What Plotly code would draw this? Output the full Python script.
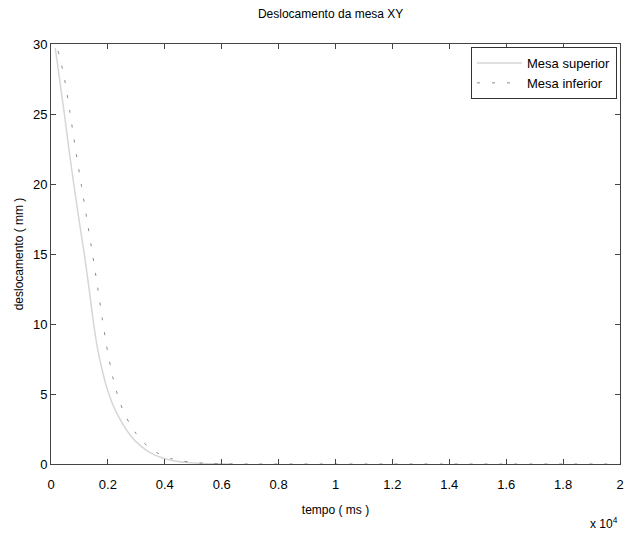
import plotly.graph_objects as go

# Mesa superior (solid)
sup_t = [150, 300, 470, 630, 800, 980, 1170, 1340, 1500, 1640, 1800, 1970, 2160, 2370,
         2600, 2850, 3150, 3500, 3900, 4350, 4800, 5300, 5900, 6400]
sup_y = [29.7, 27.5, 25.0, 22.5, 20.0, 17.5, 15.0, 12.5, 10.0, 8.2, 6.7, 5.4, 4.3, 3.4,
         2.6, 1.9, 1.3, 0.8, 0.45, 0.22, 0.1, 0.04, 0.01, 0.0]

# Mesa inferior (dotted)
inf_t = [250, 450, 660, 860, 1060, 1260, 1460, 1640, 1800, 1950, 2090, 2230, 2390, 2560,
         2760, 2980, 3220, 3500, 3820, 4200, 4650, 5100, 5700, 6300, 7000, 10000, 15000, 20000]
inf_y = [29.5, 27.8, 25.2, 22.5, 20.0, 17.5, 15.0, 12.6, 10.4, 8.5, 7.0, 5.7, 4.6, 3.7,
         2.9, 2.2, 1.6, 1.1, 0.7, 0.4, 0.2, 0.09, 0.03, 0.01, 0.0, 0.0, 0.0, 0.0]

x_tickvals = [0, 2000, 4000, 6000, 8000, 10000, 12000, 14000, 16000, 18000, 20000]
x_ticktext = ["0", "0.2", "0.4", "0.6", "0.8", "1", "1.2", "1.4", "1.6", "1.8", "2"]
y_tickvals = [0, 5, 10, 15, 20, 25, 30]

W, H = 643, 547
L, R, T, B = 43, 612, 36, 456
PW, PH = R - L, B - T

fig = go.Figure()
fig.add_trace(go.Scatter(x=sup_t, y=sup_y, mode="lines", name="Mesa superior",
                         line=dict(color="#d6d6d6", width=1.5, shape="spline", smoothing=0.6)))
fig.add_trace(go.Scatter(x=inf_t, y=inf_y, mode="lines", name="Mesa inferior",
                         line=dict(color="#8a8a8a", width=1, dash="3px,12px",
                                   shape="spline", smoothing=0.6)))

font = "Liberation Sans, Arial, sans-serif"
fig.update_layout(
    width=W, height=H,
    margin=dict(l=L, r=W - R, t=T, b=H - B),
    paper_bgcolor="white", plot_bgcolor="white",
    font=dict(family=font, size=12, color="black"),
    title=dict(text="Deslocamento da mesa XY", x=316 / W, xref="paper", xanchor="center",
               y=1 - 6 / H, yanchor="middle", font=dict(size=12)),
    showlegend=True,
    legend=dict(x=1 - 3 / PW, xanchor="right", y=1 - 3 / PH, yanchor="top",
                bordercolor="#333", borderwidth=1, bgcolor="white",
                font=dict(size=13), tracegroupgap=0, itemwidth=45),
    xaxis=dict(range=[0, 20000], tickvals=x_tickvals, ticktext=x_ticktext,
               showline=True, linecolor="#444", linewidth=1, mirror="ticks",
               ticks="inside", ticklen=5, tickcolor="#444", showgrid=False, zeroline=False,
               tickfont=dict(size=13), ticklabelstandoff=8,
               title=dict(text="tempo ( ms )", font=dict(size=12), standoff=15)),
    yaxis=dict(range=[0, 30], tickvals=y_tickvals,
               showline=True, linecolor="#444", linewidth=1, mirror="ticks",
               ticks="inside", ticklen=5, tickcolor="#444", showgrid=False, zeroline=False,
               tickfont=dict(size=13),
               title=dict(text="deslocamento ( mm )", font=dict(size=12), standoff=6)),
)
fig.add_annotation(text="x 10<sup>4</sup>", xref="paper", yref="paper",
                   x=1.0, xanchor="right", y=-(515 - B) / PH, yanchor="middle",
                   showarrow=False, font=dict(size=12))

fig.write_html("out.html")
